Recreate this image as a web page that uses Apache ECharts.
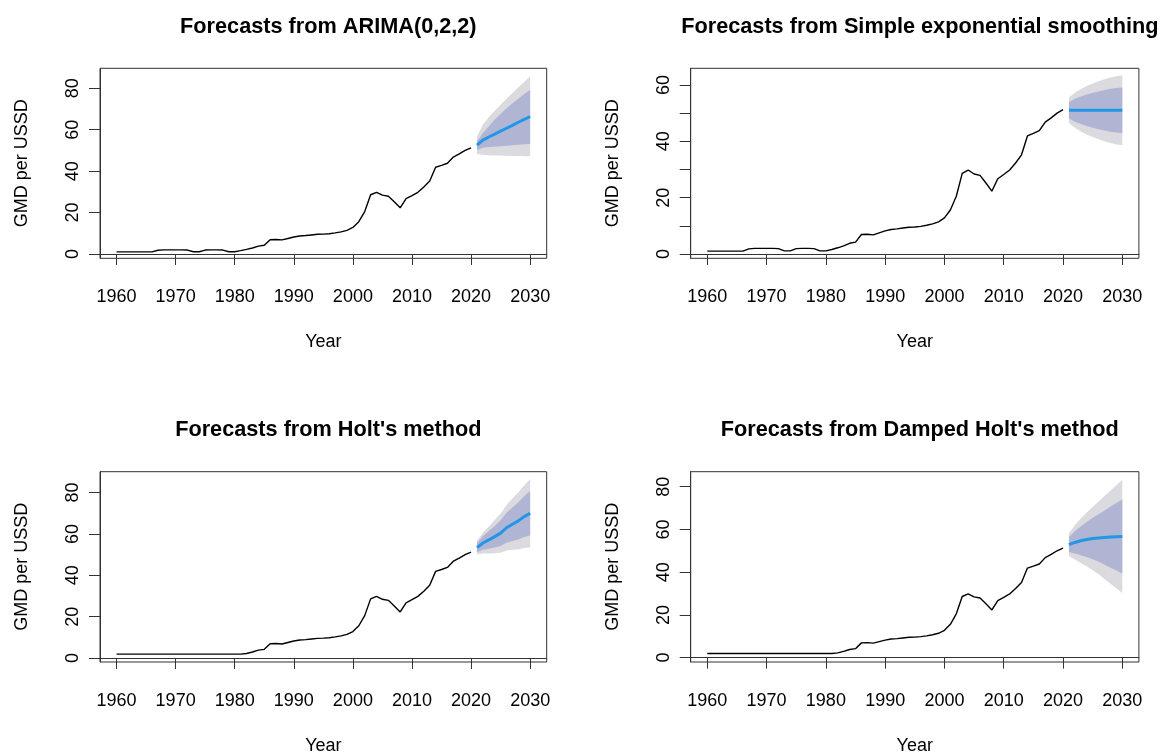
<!DOCTYPE html>
<html>
<head>
<meta charset="utf-8">
<script src="https://cdn.jsdelivr.net/npm/echarts@6/dist/echarts.min.js"></script>
<style>
  html, body { margin: 0; padding: 0; background: #fff; }
  #chart { width: 1160px; height: 756px; }
</style>
</head>
<body>
<div id="chart"></div>
<script>
// observed exchange rate, 1960 - 2020
const gmdHist = [
  1.0, 1.0, 1.0, 1.0, 1.0, 1.0, 1.0,
  1.8, 2.0, 2.0, 2.0, 2.0, 1.9, 1.1, 1.1,
  1.9, 2.0, 2.0, 1.9, 1.1, 1.1, 1.6, 2.2, 2.9, 3.8, 4.2,
  6.9, 7.0, 6.8, 7.5, 8.2, 8.7, 8.9, 9.2, 9.5, 9.6,
  9.8, 10.2, 10.7, 11.4, 12.8, 15.6, 20.5, 28.6, 29.8, 28.4,
  27.9, 25.2, 22.3, 26.7, 28.2, 29.8, 32.3, 35.2, 41.9, 42.8,
  43.8, 46.8, 48.3, 50.0, 51.2
];
// the Holt panels show a flat start up to 1981
const holtStart = [
  1.9, 1.9, 1.9, 1.9, 1.9, 1.9, 1.9, 1.9, 1.9, 1.9, 1.9,
  1.9, 1.9, 1.9, 1.9, 1.9, 1.9, 1.9, 1.9, 1.9, 1.9, 1.9
];
const holtHist = holtStart.concat(gmdHist.slice(holtStart.length));

// forecasts, 2021 - 2030
const arimaMean = [52.6, 55.0, 56.5, 57.9, 59.3, 60.7, 62.1, 63.6, 65.0, 66.4];
const arimaLo80 = [50.2, 51.3, 51.6, 51.8, 52.0, 52.3, 52.5, 52.8, 53.0, 53.1];
const arimaHi80 = [54.4, 58.4, 61.7, 64.9, 67.6, 70.2, 72.8, 75.0, 77.3, 79.3];
const arimaLo95 = [48.3, 47.9, 47.7, 47.6, 47.5, 47.4, 47.3, 47.3, 47.2, 47.2];
const arimaHi95 = [56.8, 62.4, 66.0, 69.2, 72.1, 75.0, 77.7, 80.5, 83.1, 85.8];

const sesMean = [51.0, 51.0, 51.0, 51.0, 51.0, 51.0, 51.0, 51.0, 51.0, 51.0];
const sesLo80 = [48.1, 46.9, 46.1, 45.4, 44.8, 44.3, 43.8, 43.4, 43.1, 42.9];
const sesHi80 = [53.9, 55.1, 55.9, 56.6, 57.2, 57.7, 58.2, 58.6, 58.9, 59.1];
const sesLo95 = [46.5, 44.8, 43.5, 42.4, 41.5, 40.7, 40.0, 39.4, 38.9, 38.6];
const sesHi95 = [55.5, 57.2, 58.5, 59.6, 60.5, 61.3, 62.0, 62.6, 63.1, 63.4];

const holtMean = [53.4, 55.6, 57.1, 58.7, 60.4, 63.0, 64.7, 66.3, 68.4, 70.0];
const holtLo80 = [51.2, 52.3, 52.8, 53.5, 54.2, 55.8, 56.6, 57.3, 58.5, 59.2];
const holtHi80 = [55.6, 58.9, 61.4, 63.9, 66.6, 70.2, 72.8, 75.3, 78.3, 80.8];
const holtLo95 = [50.1, 50.6, 50.6, 50.7, 50.9, 52.0, 52.3, 52.5, 53.2, 53.5];
const holtHi95 = [56.7, 60.6, 63.6, 66.7, 69.9, 74.0, 77.1, 80.1, 83.6, 86.5];

const dampMean = [52.9, 53.9, 54.7, 55.3, 55.7, 56.0, 56.2, 56.4, 56.6, 56.7];
const dampLo80 = [49.4, 48.7, 47.9, 47.1, 46.0, 44.9, 43.5, 42.1, 40.8, 39.4];
const dampHi80 = [56.4, 59.1, 61.5, 63.5, 65.4, 67.1, 68.9, 70.7, 72.4, 74.0];
const dampLo95 = [47.6, 45.9, 44.3, 42.7, 40.9, 39.0, 36.8, 34.6, 32.5, 30.2];
const dampHi95 = [58.2, 61.9, 65.1, 67.9, 70.5, 73.0, 75.6, 78.2, 80.7, 83.2];

const yearTicks = [1960, 1970, 1980, 1990, 2000, 2010, 2020, 2030];
const histStart = 1960;
const fcStart = 2021;

const FONT = '"Liberation Sans", Arial, Helvetica, sans-serif';
const LIGHT = '#dbdbdf';
const DARK = '#b0b5d3';
const BLUE = '#2297e6';

const panels = [
  { title: 'Forecasts from ARIMA(0,2,2)', hist: gmdHist,
    fc: { mean: arimaMean, lo80: arimaLo80, hi80: arimaHi80, lo95: arimaLo95, hi95: arimaHi95 },
    box: [100, 68.3, 446.7, 190], yRange: [-2.08, 89.66],
    yTicks: [0, 20, 40, 60, 80], yLabels: [0, 20, 40, 60, 80], titleTop: 11 },
  { title: 'Forecasts from Simple exponential smoothing', hist: gmdHist,
    fc: { mean: sesMean, lo80: sesLo80, hi80: sesHi80, lo95: sesLo95, hi95: sesHi95 },
    box: [690.7, 68.3, 448.2, 190], yRange: [-1.53, 65.9],
    yTicks: [0, 10, 20, 30, 40, 50, 60], yLabels: [0, 20, 40, 60], titleTop: 11 },
  { title: "Forecasts from Holt's method", hist: holtHist,
    fc: { mean: holtMean, lo80: holtLo80, hi80: holtHi80, lo95: holtLo95, hi95: holtHi95 },
    box: [100, 471.7, 446.7, 190.6], yRange: [-1.93, 90.1],
    yTicks: [0, 20, 40, 60, 80], yLabels: [0, 20, 40, 60, 80], titleTop: 414 },
  { title: "Forecasts from Damped Holt's method", hist: holtHist,
    fc: { mean: dampMean, lo80: dampLo80, hi80: dampHi80, lo95: dampLo95, hi95: dampHi95 },
    box: [690.7, 471.7, 448.2, 191], yRange: [-2.05, 87.0],
    yTicks: [0, 20, 40, 60, 80], yLabels: [0, 20, 40, 60, 80], titleTop: 414 }
];

const pairs = (start, vals) => vals.map((v, i) => [start + i, v]);

// prediction interval drawn as one polygon through the axis scales
function bandSeries(i, lo, hi, color) {
  return {
    type: 'custom', xAxisIndex: i, yAxisIndex: i, silent: true,
    data: lo.map((v, k) => [fcStart + k, v, hi[k]]),
    encode: { x: 0, y: [1, 2] },
    renderItem: (params, api) => {
      if (params.dataIndex !== 0) return null;
      const upper = hi.map((v, k) => api.coord([fcStart + k, v]));
      const lower = lo.map((v, k) => api.coord([fcStart + k, v])).reverse();
      return { type: 'polygon', shape: { points: upper.concat(lower) }, style: { fill: color } };
    }
  };
}

const titles = [], grids = [], xAxes = [], yAxes = [], series = [];

panels.forEach((p, i) => {
  const [left, top, width, height] = p.box;
  titles.push({
    text: p.title, left: left + width / 2, top: p.titleTop, textAlign: 'center',
    textStyle: { fontFamily: FONT, fontSize: 21.7, fontWeight: 'bold', color: '#000' }
  });
  grids.push({ left, top, width, height, show: true, borderColor: '#333', borderWidth: 1, backgroundColor: 'transparent' });
  xAxes.push({
    type: 'value', gridIndex: i, min: 1957.2, max: 2032.8,
    name: 'Year', nameLocation: 'middle', nameGap: 75,
    nameTextStyle: { fontFamily: FONT, fontSize: 18, color: '#000' },
    axisLine: { show: true, lineStyle: { color: '#333' } },
    axisTick: { show: true, length: 11, customValues: yearTicks, lineStyle: { color: '#333' } },
    axisLabel: { customValues: yearTicks, margin: 30, formatter: v => String(v),
      fontFamily: FONT, fontSize: 18, color: '#000' },
    splitLine: { show: false }
  });
  yAxes.push({
    type: 'value', gridIndex: i, min: p.yRange[0], max: p.yRange[1],
    name: 'GMD per USSD', nameLocation: 'middle', nameRotate: 90, nameGap: 69,
    nameTextStyle: { fontFamily: FONT, fontSize: 18, color: '#000' },
    axisLine: { show: true, lineStyle: { color: '#333' } },
    axisTick: { show: true, length: 11, customValues: p.yTicks, lineStyle: { color: '#333' } },
    axisLabel: { customValues: p.yLabels, rotate: 90, margin: 18, formatter: v => String(v),
      fontFamily: FONT, fontSize: 18, color: '#000' },
    splitLine: { show: false }
  });

  series.push(bandSeries(i, p.fc.lo95, p.fc.hi95, LIGHT));
  series.push(bandSeries(i, p.fc.lo80, p.fc.hi80, DARK));
  const base = { type: 'line', xAxisIndex: i, yAxisIndex: i, symbol: 'none', silent: true };
  // observed
  series.push(Object.assign({}, base, { data: pairs(histStart, p.hist), lineStyle: { color: '#000', width: 1.4 } }));
  // point forecast
  series.push(Object.assign({}, base, { data: pairs(fcStart, p.fc.mean), lineStyle: { color: BLUE, width: 3 } }));
});

const chart = echarts.init(document.getElementById('chart'));
chart.setOption({
  animation: false,
  backgroundColor: '#fff',
  title: titles,
  grid: grids,
  xAxis: xAxes,
  yAxis: yAxes,
  series
});
</script>
</body>
</html>
